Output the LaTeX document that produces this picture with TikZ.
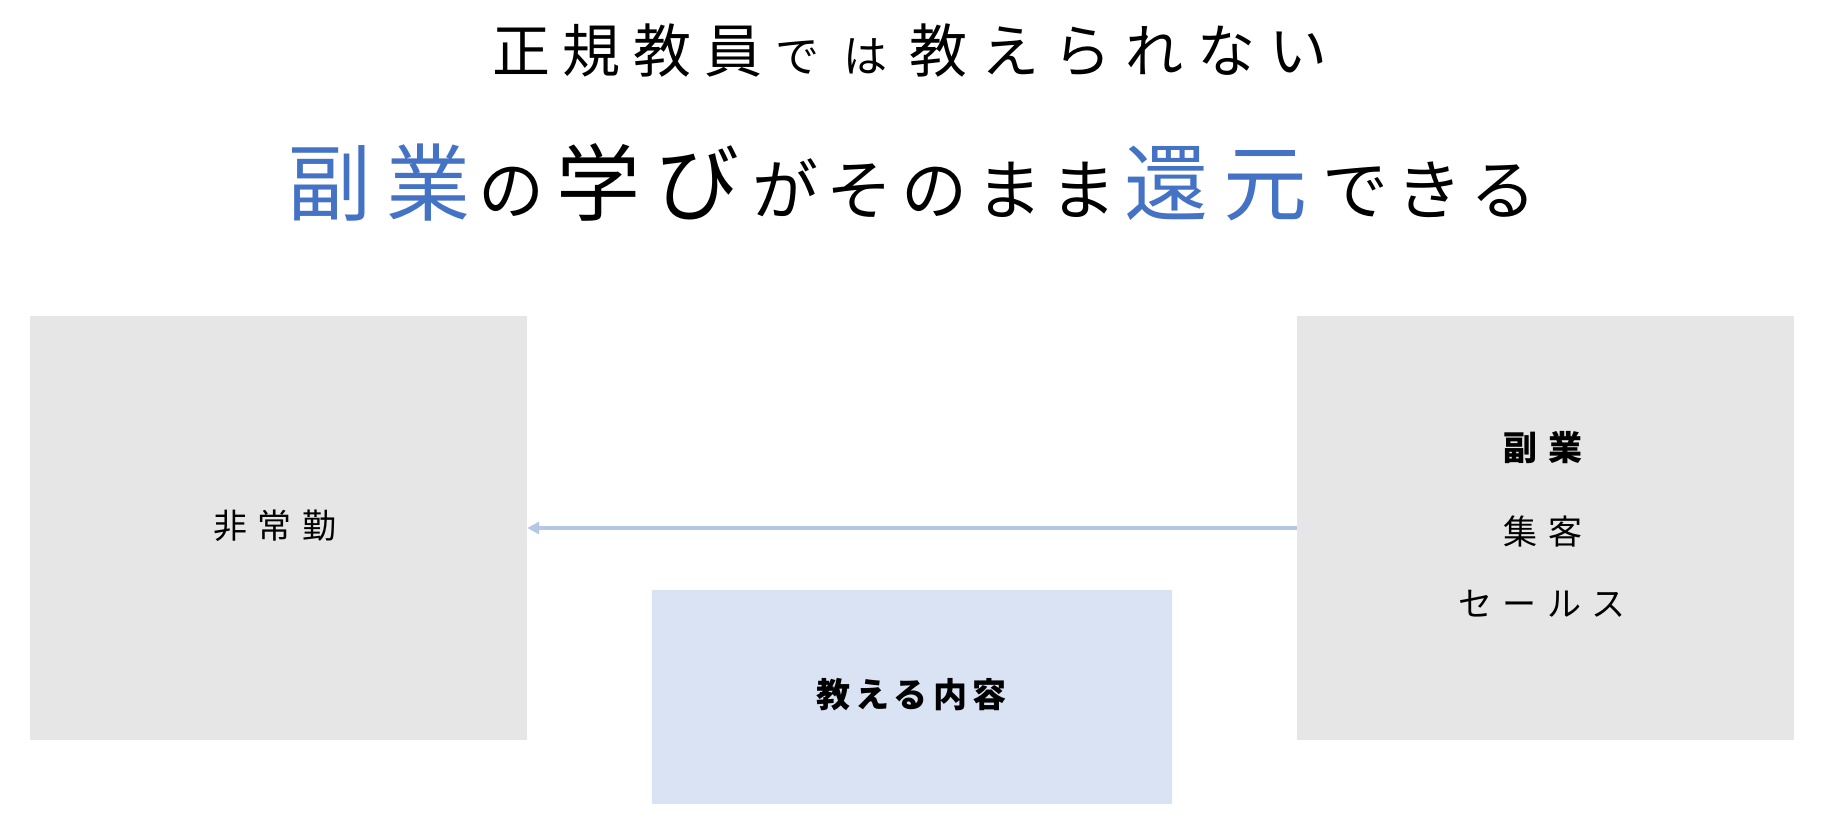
\documentclass[tikz,border=0pt]{standalone}
\usepackage{fontspec}
\usepackage{tikz}
\usetikzlibrary{arrows.meta}
\newfontfamily\jp{Noto Sans CJK JP}
\definecolor{boxgray}{HTML}{E7E6E6}
\definecolor{boxblue}{HTML}{DAE3F3}
\definecolor{arrowblue}{HTML}{B4C7E7}
\definecolor{keyblue}{HTML}{4472C4}
\newcommand{\sz}[2]{\fontsize{#1}{#1}\selectfont\addfontfeature{LetterSpace=#2}}
\newcommand{\gap}[1]{\hspace{#1pt}}

\begin{document}
\begin{tikzpicture}[x=1pt,y=-1pt,
   panel/.style={fill=boxgray,minimum width=497pt,minimum height=424pt,inner sep=0pt},
   lesson/.style={fill=boxblue,minimum width=520pt,minimum height=214pt,inner sep=0pt},
   label/.style={inner sep=0pt,font=\jp\sz{34}{30}},
   boldlabel/.style={inner sep=0pt,font=\jp\bfseries\sz{34}{30}},
   headline/.style={inner sep=0pt,anchor=base west,font=\jp}]
   \useasboundingbox (0,0) rectangle (1826,830);
   \node[panel]  (hijokin) at ( 278.5, 528) {};
   \node[panel]  (fukugyo) at (1545.5, 528) {};
   \node[lesson] (naiyo)   at ( 912  , 697) {};
   \draw[arrowblue, line width=3.3pt, -{Triangle[length=12pt,width=12pt]}] (fukugyo) -- (hijokin);
   \node[label]     (hijokin-t) at ( 275, 526) {非常勤};
   \node[boldlabel] (fukugyo-t) at (1543, 448) {副業};
   \node[label]     (shukyaku)  at (1543, 532) {集客};
   \node[label]     (sales)     at (1542, 604) {セールス};
   \node[boldlabel, font=\jp\bfseries\sz{34}{15}] (naiyo-t) at (911.5, 695) {教える内容};
   \node[headline] (title1) at (492, 72.5) {{\sz{58}{22}正規教員}\gap{13}{\sz{44}{55}では}\gap{22}{\sz{58}{24}教えられない}};
   \node[headline] (title2) at (287, 214) {{\color{keyblue}\sz{84}{18}副業}\gap{8}{\sz{66}{13}の}\gap{12}{\sz{84}{18}学び}\gap{13}{\sz{66}{13}がそのまま}\gap{7.5}{\color{keyblue}\sz{84}{18}還元}\gap{15}{\sz{66}{13}できる}};
\end{tikzpicture}
\end{document}
